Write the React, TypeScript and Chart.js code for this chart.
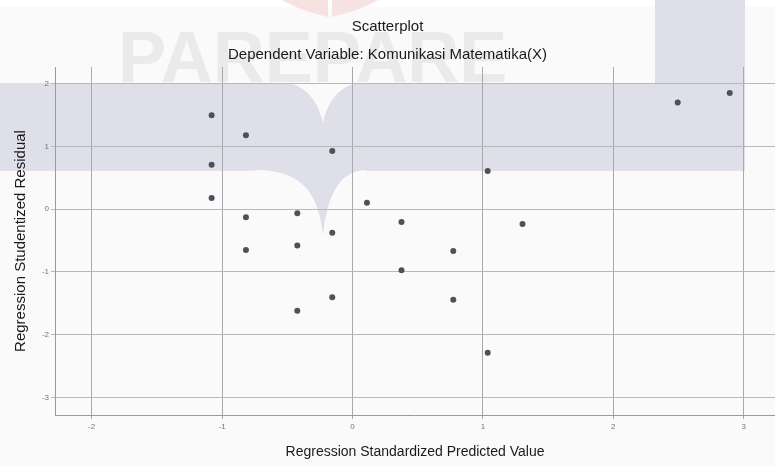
import React, { useEffect, useRef } from "react";
import { Chart, registerables } from "chart.js";

Chart.register(...registerables);

const predicted: number[] = [
  -1.08, -1.08, -1.08, -0.817, -0.817, -0.817, -0.423, -0.423, -0.423,
  -0.155, -0.155, -0.155, 0.111, 0.376, 0.376, 0.773, 0.773, 1.037, 1.037,
  1.304, 2.494, 2.893,
];
const residual: number[] = [
  1.5, 0.71, 0.18, 1.18, -0.13, -0.65, -0.065, -0.58, -1.62,
  0.93, -0.375, -1.405, 0.104, -0.204, -0.975, -0.667, -1.443, 0.61, -2.29,
  -0.236, 1.7, 1.853,
];
const titleText = "Scatterplot";
const subtitleText = "Dependent Variable: Komunikasi Matematika(X)";
const xTitle = "Regression Standardized Predicted Value";
const yTitle = "Regression Studentized Residual";
const watermarkText = "PAREPARE";

const BG = "#fafafa";
const BAND = "#dfdfe9";

const watermarkPlugin = {
  id: "watermark",
  beforeDraw(chart: any) {
    const ctx = chart.ctx as CanvasRenderingContext2D;
    ctx.save();
    ctx.fillStyle = BG;
    ctx.fillRect(0, 0, chart.width, chart.height);
    ctx.fillStyle = "#ffffff";
    ctx.fillRect(0, 0, chart.width, 7);
    // faint red shape at top
    ctx.fillStyle = "#f7e2e2";
    ctx.beginPath();
    ctx.moveTo(282, 0);
    ctx.bezierCurveTo(295, 8, 312, 13, 328, 17);
    ctx.lineTo(328, 0);
    ctx.closePath();
    ctx.fill();
    ctx.beginPath();
    ctx.moveTo(378, 0);
    ctx.bezierCurveTo(365, 8, 348, 13, 332, 17);
    ctx.lineTo(332, 0);
    ctx.closePath();
    ctx.fill();
    // watermark letters
    ctx.fillStyle = "#eaeaea";
    ctx.font = "bold 72px 'Liberation Sans', Arial, sans-serif";
    ctx.textBaseline = "alphabetic";
    ctx.textAlign = "left";
    ctx.fillText(watermarkText, 118, 82);
    // lavender band and block
    ctx.fillStyle = BAND;
    ctx.fillRect(0, 83, 745, 87);
    ctx.fillRect(655, 0, 90, 83);
    // drop below band
    ctx.beginPath();
    ctx.moveTo(255, 170);
    ctx.bezierCurveTo(300, 170, 318, 190, 323, 235);
    ctx.bezierCurveTo(328, 192, 340, 172, 365, 170);
    ctx.closePath();
    ctx.fill();
    // notch in band top
    ctx.fillStyle = BG;
    ctx.beginPath();
    ctx.moveTo(288, 83);
    ctx.bezierCurveTo(305, 86, 318, 100, 323, 123);
    ctx.bezierCurveTo(328, 100, 340, 86, 358, 83);
    ctx.closePath();
    ctx.fill();
    // faint pink edge
    ctx.strokeStyle = "#f1dcef";
    ctx.lineWidth = 1;
    ctx.beginPath();
    ctx.moveTo(0, 170.5);
    ctx.lineTo(255, 170.5);
    ctx.moveTo(365, 170.5);
    ctx.lineTo(745, 170.5);
    ctx.stroke();
    ctx.restore();
  },
};

export default function App() {
  const canvasRef = useRef<HTMLCanvasElement | null>(null);

  useEffect(() => {
    if (!canvasRef.current) return;
    const points = predicted.map((x, i) => ({ x, y: residual[i] }));
    const font = "'Liberation Sans', Arial, sans-serif";
    const chart = new Chart(canvasRef.current, {
      type: "scatter",
      data: {
        datasets: [
          {
            data: points,
            backgroundColor: "#505058",
            borderColor: "#505058",
            borderWidth: 0,
            pointRadius: 3,
            pointHoverRadius: 3,
          },
        ],
      },
      options: {
        animation: false,
        responsive: false,
        maintainAspectRatio: false,
        layout: { padding: 0, autoPadding: false },
        plugins: {
          legend: { display: false },
          tooltip: { enabled: false },
          title: {
            display: true,
            text: titleText,
            color: "#1a1a1a",
            font: { family: font, size: 15, weight: "normal" },
            padding: { top: 18, bottom: 5 },
          },
          subtitle: {
            display: true,
            text: subtitleText,
            color: "#1a1a1a",
            font: { family: font, size: 15, weight: "normal" },
            padding: { top: 5, bottom: 3 },
          },
        },
        scales: {
          x: {
            type: "linear",
            min: -2.281,
            max: 3.24,
            afterFit: (s: any) => {
              s.height = 51;
              s.paddingLeft = 0;
              s.paddingRight = 0;
            },
            ticks: {
              stepSize: 1,
              includeBounds: false,
              color: "#777",
              font: { family: font, size: 8 },
              padding: 3,
              maxRotation: 0,
              minRotation: 0,
            },
            grid: { color: "#a8a8b0", tickLength: 4, lineWidth: 1 },
            border: { display: true, color: "#9a9a9a" },
            title: {
              display: true,
              text: xTitle,
              color: "#1a1a1a",
              font: { family: font, size: 14 },
              padding: { top: 0, bottom: 5.6 },
            },
          },
          y: {
            type: "linear",
            min: -3.282,
            max: 2.268,
            afterFit: (s: any) => {
              s.width = 55;
              s.paddingTop = 0;
              s.paddingBottom = 0;
            },
            ticks: {
              stepSize: 1,
              includeBounds: false,
              color: "#777",
              font: { family: font, size: 8 },
              padding: 2,
            },
            grid: { color: "#b8b8b8", tickLength: 4, lineWidth: 1 },
            border: { display: true, color: "#9a9a9a" },
            title: {
              display: true,
              text: yTitle,
              color: "#1a1a1a",
              font: { family: font, size: 15 },
              padding: { top: 12, bottom: 0 },
            },
          },
        },
      },
      plugins: [watermarkPlugin],
    });
    return () => chart.destroy();
  }, []);

  return (
    <div style={{ position: "absolute", left: 0, top: 0, width: 775, height: 466 }}>
      <canvas ref={canvasRef} width={775} height={466} style={{ width: 775, height: 466 }} />
    </div>
  );
}
